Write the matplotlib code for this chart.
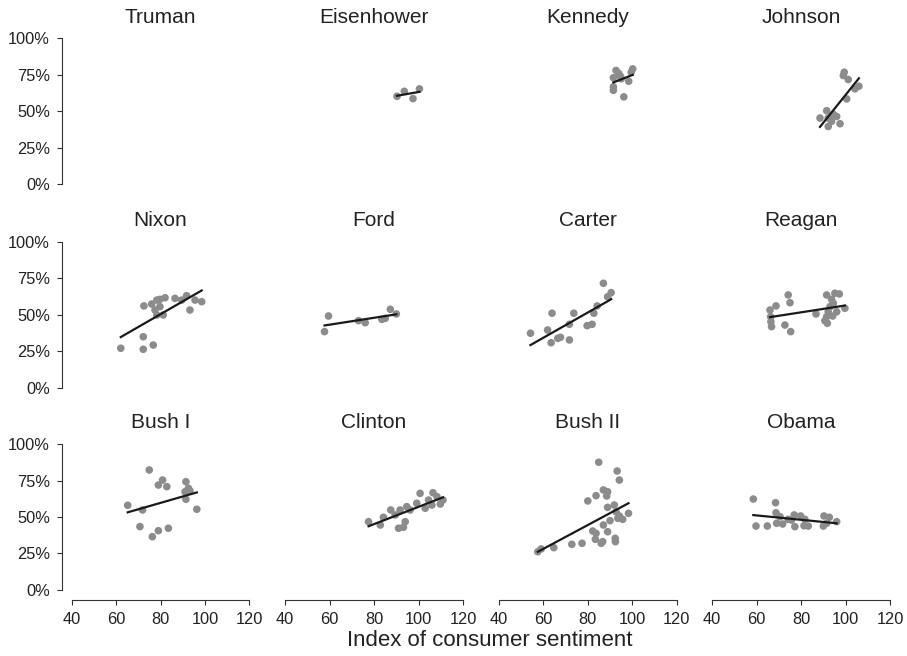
import numpy as np
import matplotlib
matplotlib.use('Agg')
import matplotlib.pyplot as plt

plt.rcParams['font.family'] = ['Liberation Sans', 'DejaVu Sans']

# Approval (%) vs index of consumer sentiment, per president
presidents = ['Truman', 'Eisenhower', 'Kennedy', 'Johnson',
              'Nixon', 'Ford', 'Carter', 'Reagan',
              'Bush I', 'Clinton', 'Bush II', 'Obama']

truman_x = []
truman_y = []

eisenhower_x = [90.3, 93.6, 97.5, 100.4]
eisenhower_y = [60.3, 63.7, 58.7, 65.4]

kennedy_x = [92.8, 100.3, 99.6, 91.6, 95.1, 98.5, 91.6, 91.6, 96.3, 94.0, 94.8]
kennedy_y = [78.0, 79.1, 76.8, 73.0, 72.3, 70.6, 66.8, 64.4, 59.9, 75.9, 74.0]

johnson_x = [99.4, 99.0, 101.2, 106.0, 104.2, 100.5, 91.5, 88.5, 92.2, 96.0, 93.7, 92.2, 97.5, 94.5]
johnson_y = [76.8, 74.5, 71.8, 67.2, 65.4, 58.5, 50.4, 45.4, 45.4, 46.5, 43.1, 39.6, 41.5, 48.0]

nixon_x = [62.1, 72.2, 72.2, 76.7, 72.5, 76.0, 78.3, 79.7, 82.0, 77.5, 78.3, 81.2,
           79.7, 86.5, 89.5, 91.7, 93.2, 95.5, 98.5]
nixon_y = [27.0, 34.9, 26.3, 29.2, 56.0, 57.3, 60.0, 60.5, 61.6, 53.2, 49.8, 49.8,
           55.5, 61.2, 60.0, 63.0, 53.2, 60.0, 58.9]

ford_x = [59.5, 57.7, 73.0, 76.0, 83.5, 85.0, 87.3, 90.0]
ford_y = [49.1, 38.4, 45.9, 44.5, 46.8, 47.5, 53.7, 50.5]

carter_x = [54.3, 62.0, 64.0, 63.6, 66.6, 67.8, 71.8, 71.8, 73.8, 79.8, 82.0, 82.8,
            84.3, 87.1, 89.0, 90.6]
carter_y = [37.3, 39.5, 51.0, 30.8, 33.8, 34.5, 32.7, 43.4, 51.0, 42.5, 43.4, 51.0,
            56.0, 71.5, 62.3, 65.1]

reagan_x = [66.0, 68.7, 74.2, 75.0, 66.3, 66.4, 66.7, 72.7, 75.3, 86.7, 91.5, 93.7,
            97.2, 95.2, 94.5, 93.0, 99.7, 91.5, 90.7, 91.8, 94.2, 96.0, 92.2]
reagan_y = [53.2, 56.0, 63.5, 58.2, 48.6, 45.2, 41.8, 42.9, 38.4, 50.5, 63.5, 60.5,
            64.2, 64.7, 57.8, 55.5, 54.4, 48.6, 45.9, 44.1, 49.1, 52.0, 52.0]

bush1_x = [65.2, 70.7, 71.9, 74.9, 76.3, 79.0, 79.0, 80.9, 82.8, 83.5, 91.4, 91.0,
           91.4, 92.5, 93.2, 96.3]
bush1_y = [58.0, 43.4, 54.8, 82.2, 36.5, 40.6, 71.9, 75.3, 70.8, 42.3, 74.2, 67.3,
           62.1, 69.7, 68.0, 55.3]

clinton_x = [77.5, 82.8, 84.2, 87.5, 91.0, 93.2, 91.7, 94.0, 94.7, 96.2, 99.2, 100.7,
             103.0, 104.5, 106.5, 108.3, 109.8, 111.0, 106.0, 89.5]
clinton_y = [46.8, 44.5, 49.8, 54.8, 42.3, 43.0, 54.8, 46.8, 57.1, 54.8, 59.4, 66.2,
             56.0, 61.6, 66.6, 63.9, 58.9, 61.6, 58.2, 51.4]

bush2_x = [57.6, 59.1, 64.8, 72.9, 77.5, 80.1, 83.8, 85.0, 82.3, 83.8, 83.5, 86.1,
           86.8, 87.1, 89.0, 87.1, 89.0, 88.6, 89.0, 90.1, 92.0, 92.4, 92.5, 93.3,
           94.3, 93.6, 94.3, 95.8, 98.4, 92.8]
bush2_y = [26.2, 28.1, 29.0, 31.3, 32.0, 61.0, 64.6, 87.5, 40.4, 38.8, 34.7, 32.0,
           33.1, 44.5, 39.9, 68.5, 67.3, 64.4, 56.6, 47.5, 58.2, 35.4, 33.1, 81.5,
           75.3, 49.1, 50.7, 48.4, 52.5, 53.6]

obama_x = [58.5, 59.7, 64.8, 68.5, 68.7, 69.0, 70.5, 71.7, 74.2, 76.9, 77.2, 79.8,
           81.7, 81.3, 83.2, 90.3, 92.7, 90.0, 91.5, 96.0, 75.7]
obama_y = [62.3, 43.8, 43.8, 59.8, 52.9, 45.7, 50.2, 45.2, 48.4, 51.4, 43.4, 50.7,
           48.4, 44.0, 43.8, 50.7, 49.8, 43.8, 45.7, 46.8, 47.9]

series = [(truman_x, truman_y), (eisenhower_x, eisenhower_y),
          (kennedy_x, kennedy_y), (johnson_x, johnson_y),
          (nixon_x, nixon_y), (ford_x, ford_y),
          (carter_x, carter_y), (reagan_x, reagan_y),
          (bush1_x, bush1_y), (clinton_x, clinton_y),
          (bush2_x, bush2_y), (obama_x, obama_y)]

x_ticks = [40, 60, 80, 100, 120]
y_ticks = [0, 25, 50, 75, 100]
y_tick_labels = ['0%', '25%', '50%', '75%', '100%']

fig = plt.figure(figsize=(9.07, 6.56), dpi=100)

lefts = [0.0680, 0.3034, 0.5388, 0.7742]
bottoms = [0.7038, 0.3938, 0.0854]
w, h = 0.2181, 0.2530

for i, name in enumerate(presidents):
    row, col = divmod(i, 4)
    ax = fig.add_axes([lefts[col], bottoms[row], w, h])
    xs, ys = series[i]
    if xs:
        ax.scatter(xs, ys, s=30, color='#8c8c8c', edgecolors='none', zorder=2)
        # least squares fit over the observed range
        slope, icept = np.polyfit(xs, ys, 1)
        fx = np.array([min(xs), max(xs)])
        ax.plot(fx, slope * fx + icept, color='#1a1a1a', lw=1.6, zorder=3)

    ax.set_xlim(35.5, 124.5)
    ax.set_ylim(-6.85, 106.85)
    ax.set_title(name, fontsize=15, color='#222222', pad=4)

    for side in ['top', 'right']:
        ax.spines[side].set_visible(False)

    if col == 0:
        ax.spines['left'].set_bounds(0, 100)
        ax.spines['left'].set_color('#333333')
        ax.set_yticks(y_ticks)
        ax.set_yticklabels(y_tick_labels)
        ax.tick_params(axis='y', length=3.5, pad=5, labelsize=11.8,
                       colors='#333333', labelcolor='#222222')
    else:
        ax.spines['left'].set_visible(False)
        ax.set_yticks([])

    if row == 2:
        ax.spines['bottom'].set_bounds(40, 120)
        ax.spines['bottom'].set_color('#333333')
        ax.set_xticks(x_ticks)
        ax.tick_params(axis='x', length=3.5, pad=5, labelsize=11.8,
                       colors='#333333', labelcolor='#222222')
    else:
        ax.spines['bottom'].set_visible(False)
        ax.set_xticks([])

fig.text(0.54, 0.024, 'Index of consumer sentiment', ha='center', va='center',
         fontsize=16, color='#222222')

fig.savefig('out.png', dpi=100)
